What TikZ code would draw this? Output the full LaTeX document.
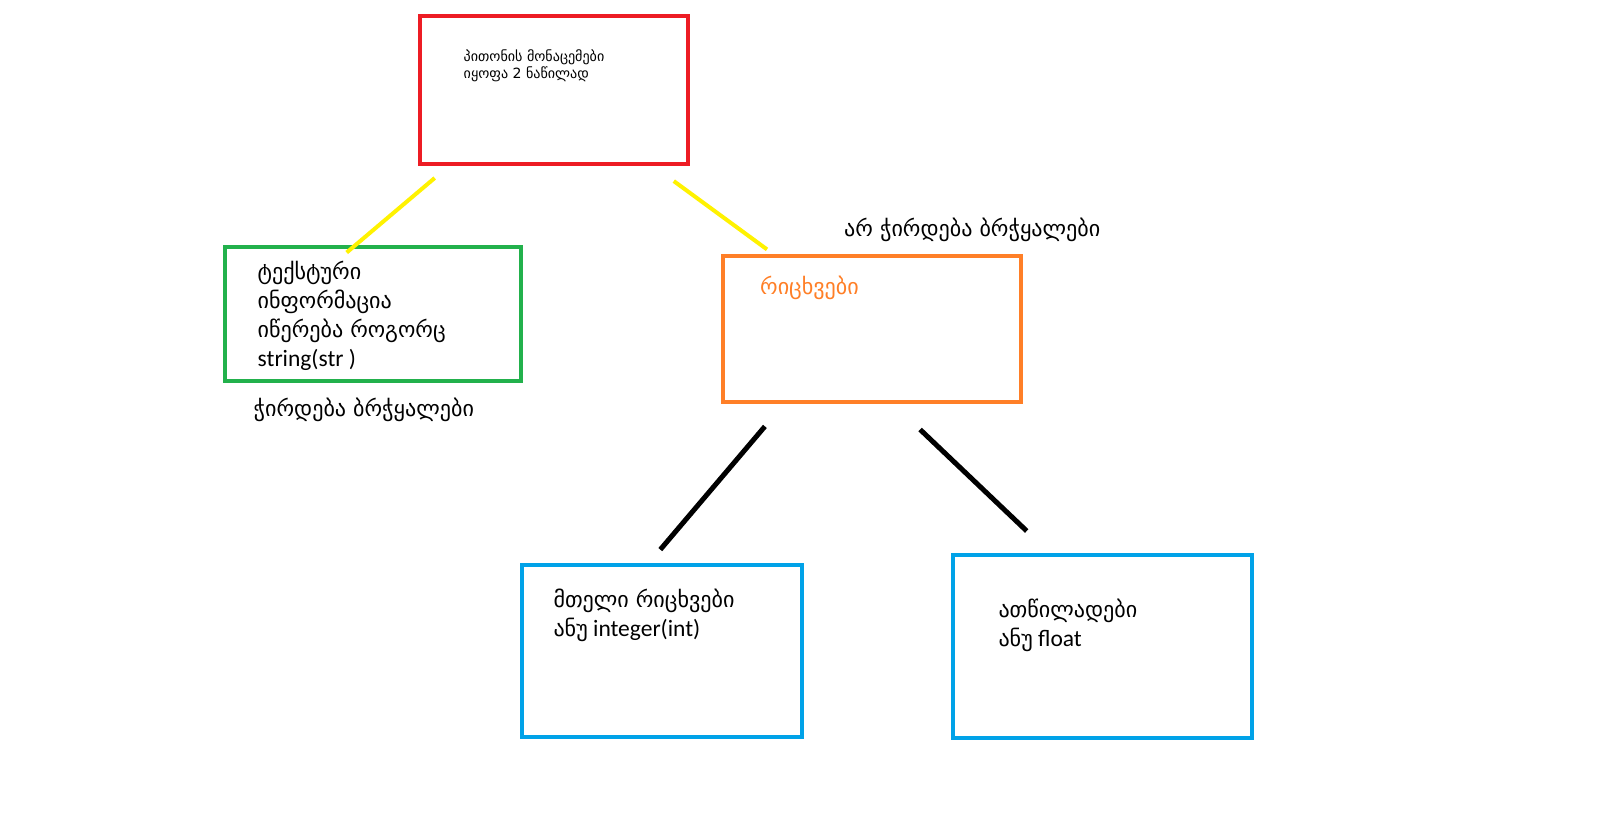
\documentclass[tikz,border=0pt]{standalone}
\usepackage{fontspec}
\setmainfont{Carlito}
\newfontfamily\geofont[Script=Georgian,Scale=0.94]{DejaVu Sans}
\newcommand{\geo}[1]{{\geofont #1}}
\definecolor{pred}{RGB}{237,28,36}
\definecolor{pgreen}{RGB}{34,177,76}
\definecolor{porange}{RGB}{255,127,39}
\definecolor{pblue}{RGB}{0,162,232}
\definecolor{pyellow}{RGB}{255,242,0}
\begin{document}
\begin{tikzpicture}[x=1pt,y=-1pt,
  box/.style={draw, line width=4pt, inner sep=0pt},
  txt/.style={anchor=base west, inner sep=0pt, font=\fontsize{23.5}{28}\selectfont},
  small/.style={anchor=base west, inner sep=0pt, font=\fontsize{15}{18}\selectfont},
  ylink/.style={draw=pyellow, line width=4pt},
  klink/.style={draw=black, line width=5pt}]
\useasboundingbox[fill=white] (0,0) rectangle (1623,814);
% boxes
\node[box, draw=pred, minimum width=268pt, minimum height=148pt] (top) at (554.2,89.5) {};
\node[box, draw=pgreen, minimum width=296pt, minimum height=133.5pt] (text) at (372.6,314.2) {};
\node[box, draw=porange, minimum width=298pt, minimum height=146pt] (num) at (871.5,328.6) {};
\node[box, draw=pblue, minimum width=280.5pt, minimum height=171.8pt] (int) at (661.9,651) {};
\node[box, draw=pblue, minimum width=299.2pt, minimum height=183.2pt] (flt) at (1102.8,646.4) {};
% texts
\node[small] (t1) at (463.5,61) {\geo{პითონის მონაცემები}};
\node[small] (t2) at (463.5,78) {\geo{იყოფა 2 ნაწილად}};
\node[txt] (g1) at (257.5,279.3) {\geo{ტექსტური}};
\node[txt] (g2) at (257.5,308.3) {\geo{ინფორმაცია}};
\node[txt] (g3) at (257.5,337.3) {\geo{იწერება როგორც}};
\node[txt] (g4) at (257.5,366.3) {string(str )};
\node[txt] (q1) at (253.5,416.7) {\geo{ჭირდება ბრჭყალები}};
\node[txt] (q2) at (844,236) {\geo{არ ჭირდება ბრჭყალები}};
\node[txt, text=porange] (n1) at (760,294) {\geo{რიცხვები}};
\node[txt] (i1) at (553.3,607.7) {\geo{მთელი რიცხვები}};
\node[txt] (i2) at (553.3,636.7) {\geo{ანუ} integer(int)};
\node[txt] (f1) at (998.3,617) {\geo{ათწილადები}};
\node[txt] (f2) at (998.3,646) {\geo{ანუ} float};
% connector ends
\coordinate (y1a) at (434.7,178);
\coordinate (y1b) at (346.7,252.5);
\coordinate (y2a) at (673.8,181.1);
\coordinate (y2b) at (767,249.4);
\coordinate (k1a) at (764.9,426.4);
\coordinate (k1b) at (660.3,549.6);
\coordinate (k2a) at (920.1,429.5);
\coordinate (k2b) at (1026.7,531);
\draw[ylink] (y1a) -- (y1b);
\draw[ylink] (y2a) -- (y2b);
\draw[klink] (k1a) -- (k1b);
\draw[klink] (k2a) -- (k2b);
\end{tikzpicture}
\end{document}
